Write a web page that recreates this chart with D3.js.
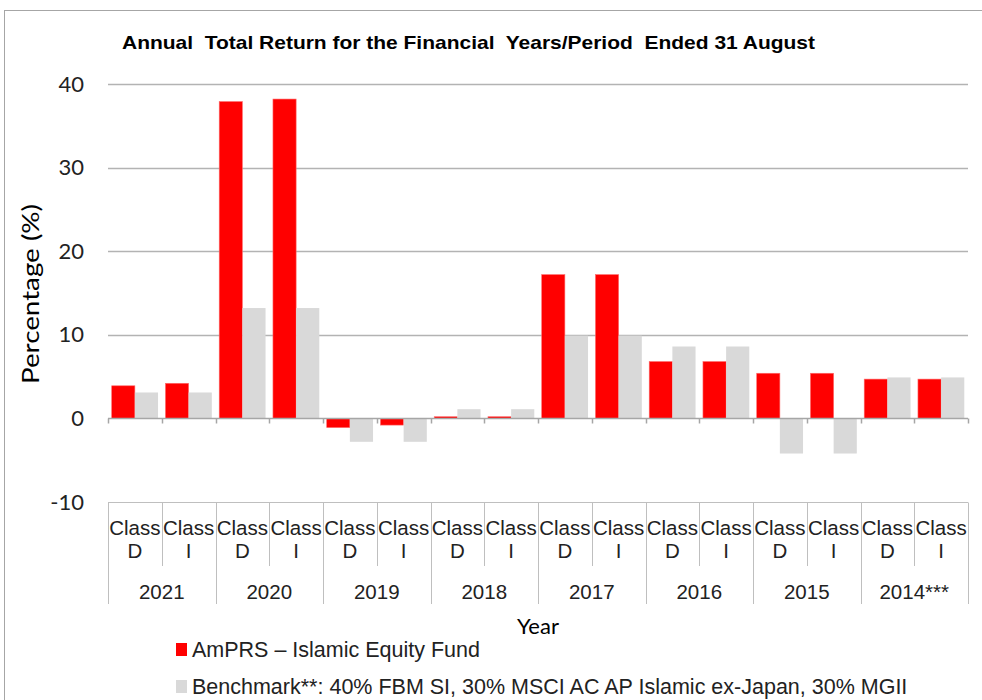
<!DOCTYPE html>
<html>
<head>
<meta charset="utf-8">
<script src="https://cdn.jsdelivr.net/npm/d3@7"></script>
<style>
  body { margin: 0; background: #fff; }
  text { white-space: pre; }
</style>
</head>
<body>
<div id="chart"></div>
<script>
// data
var years = ["2021", "2020", "2019", "2018", "2017", "2016", "2015", "2014***"];
var classes = ["Class D", "Class I"];
var fund =      [3.9, 4.2, 37.9, 38.2, -1.1, -0.8, 0.2, 0.2, 17.2, 17.2, 6.8, 6.8, 5.4, 5.4, 4.7, 4.7];
var benchmark = [3.1, 3.1, 13.2, 13.2, -2.8, -2.8, 1.1, 1.1, 9.9, 9.9, 8.6, 8.6, -4.2, -4.2, 4.9, 4.9];
var yTicks = [-10, 0, 10, 20, 30, 40];
var seriesNames = ["AmPRS \u2013 Islamic Equity Fund",
  "Benchmark**: 40% FBM SI, 30% MSCI AC AP Islamic ex-Japan, 30% MGII"];
var colors = ["#ff0000", "#d9d9d9"];

var W = 982, H = 700;
var plotLeft = 108, plotRight = 968, plotTop = 84, plotBottom = 502;

// flat category list: one entry per year/class pair
var cats = [];
years.forEach(function(yr) {
  classes.forEach(function(c) { cats.push({year: yr, cls: c, key: yr + "|" + c}); });
});
cats.forEach(function(d, i) { d.fund = fund[i]; d.bench = benchmark[i]; });

var svg = d3.select("#chart").append("svg")
  .attr("width", W).attr("height", H);

// outer frame
svg.append("rect")
  .attr("x", 4.5).attr("y", 10.5)
  .attr("width", 990).attr("height", 700)
  .attr("fill", "none").attr("stroke", "#a6a6a6").attr("stroke-width", 1);

var x0 = d3.scaleBand().domain(cats.map(function(d) { return d.key; }))
  .range([plotLeft, plotRight]).padding(0);
var x1 = d3.scaleBand().domain(["fund", "bench"])
  .range([0, x0.bandwidth()]).paddingInner(0).paddingOuter(0.16);
var y = d3.scaleLinear().domain([-10, 40]).range([plotBottom, plotTop]);

// gridlines
svg.append("g")
  .selectAll("line")
  .data(yTicks.filter(function(t) { return t > 0; }))
  .enter().append("line")
  .attr("x1", plotLeft).attr("x2", plotRight)
  .attr("y1", function(d) { return Math.round(y(d)) + 0.5; })
  .attr("y2", function(d) { return Math.round(y(d)) + 0.5; })
  .attr("stroke", "#b3b3b3").attr("stroke-width", 1.5);

// y tick labels
svg.append("g")
  .selectAll("text")
  .data(yTicks)
  .enter().append("text")
  .attr("x", 84)
  .attr("y", function(d) { return y(d) + 7.5; })
  .attr("text-anchor", "end")
  .attr("font-family", "Lato, 'Open Sans', sans-serif")
  .attr("font-size", 22)
  .attr("fill", "#222")
  .text(function(d) { return d; });

// bars
var groups = svg.append("g").selectAll("g")
  .data(cats).enter().append("g")
  .attr("transform", function(d) { return "translate(" + x0(d.key) + ",0)"; });

groups.append("rect")
  .attr("x", x1("fund"))
  .attr("width", x1.bandwidth())
  .attr("y", function(d) { return y(Math.max(0, d.fund)); })
  .attr("height", function(d) { return Math.abs(y(d.fund) - y(0)); })
  .attr("fill", colors[0]).attr("stroke", "#ff6b6b").attr("stroke-width", 0.6);

groups.append("rect")
  .attr("x", x1("bench"))
  .attr("width", x1.bandwidth())
  .attr("y", function(d) { return y(Math.max(0, d.bench)); })
  .attr("height", function(d) { return Math.abs(y(d.bench) - y(0)); })
  .attr("fill", colors[1]);

// zero axis with ticks at category boundaries
var zeroY = Math.round(y(0)) + 0.5;
svg.append("line")
  .attr("x1", plotLeft).attr("x2", plotRight)
  .attr("y1", zeroY).attr("y2", zeroY)
  .attr("stroke", "#a6a6a6").attr("stroke-width", 1.5);
svg.append("g").selectAll("line")
  .data(d3.range(cats.length + 1))
  .enter().append("line")
  .attr("x1", function(i) { return Math.round(plotLeft + i * x0.step()) + 0.5; })
  .attr("x2", function(i) { return Math.round(plotLeft + i * x0.step()) + 0.5; })
  .attr("y1", zeroY).attr("y2", zeroY + 5)
  .attr("stroke", "#a6a6a6").attr("stroke-width", 1.5);

// category table below the plot
var tableTop = Math.round(y(-10)) + 0.5;
svg.append("line")
  .attr("x1", plotLeft).attr("x2", plotRight)
  .attr("y1", tableTop).attr("y2", tableTop)
  .attr("stroke", "#bfbfbf");
svg.append("g").selectAll("line")
  .data(d3.range(cats.length + 1))
  .enter().append("line")
  .attr("x1", function(i) { return Math.round(plotLeft + i * x0.step()) + 0.5; })
  .attr("x2", function(i) { return Math.round(plotLeft + i * x0.step()) + 0.5; })
  .attr("y1", tableTop)
  .attr("y2", function(i) { return i % 2 === 0 ? 604 : 566; })
  .attr("stroke", "#bfbfbf");

var catFont = "'Liberation Sans', Arial, sans-serif";
var catLabels = svg.append("g").selectAll("text")
  .data(cats).enter().append("text")
  .attr("text-anchor", "middle")
  .attr("font-family", catFont)
  .attr("font-size", 20.5)
  .attr("fill", "#222");
catLabels.append("tspan")
  .attr("x", function(d) { return x0(d.key) + x0.bandwidth() / 2; })
  .attr("y", 535)
  .text(function(d) { return d.cls.split(" ")[0]; });
catLabels.append("tspan")
  .attr("x", function(d) { return x0(d.key) + x0.bandwidth() / 2; })
  .attr("y", 558)
  .text(function(d) { return d.cls.split(" ")[1]; });

svg.append("g").selectAll("text")
  .data(years).enter().append("text")
  .attr("x", function(yr) { return x0(yr + "|" + classes[0]) + x0.step(); })
  .attr("y", 599)
  .attr("text-anchor", "middle")
  .attr("font-family", catFont)
  .attr("font-size", 20.5)
  .attr("fill", "#222")
  .text(function(d) { return d; });

// title
svg.append("text")
  .attr("x", 122).attr("y", 49)
  .attr("font-family", "'Liberation Sans', Arial, sans-serif")
  .attr("font-weight", "bold")
  .attr("font-size", 18.5)
  .attr("textLength", 693)
  .attr("lengthAdjust", "spacingAndGlyphs")
  .attr("fill", "#000")
  .text("Annual  Total Return for the Financial  Years/Period  Ended 31 August");

// axis titles
svg.append("text")
  .attr("transform", "translate(39,294) rotate(-90)")
  .attr("text-anchor", "middle")
  .attr("font-family", "Lato, 'Open Sans', sans-serif")
  .attr("font-size", 24)
  .attr("textLength", 180)
  .attr("lengthAdjust", "spacingAndGlyphs")
  .attr("fill", "#000")
  .text("Percentage (%)");

svg.append("text")
  .attr("x", 538).attr("y", 634)
  .attr("text-anchor", "middle")
  .attr("font-family", "Lato, 'Open Sans', sans-serif")
  .attr("font-size", 22)
  .attr("fill", "#000")
  .text("Year");

// legend
var legend = svg.append("g").selectAll("g")
  .data(seriesNames).enter().append("g")
  .attr("transform", function(d, i) { return "translate(176," + (643 + i * 37) + ")"; });
legend.append("rect")
  .attr("width", 11).attr("height", 13)
  .attr("fill", function(d, i) { return colors[i]; });
legend.append("text")
  .attr("x", 16).attr("y", 14)
  .attr("font-family", "'Liberation Sans', Arial, sans-serif")
  .attr("font-size", 21.5)
  .attr("fill", "#222")
  .text(function(d) { return d; });
</script>
</body>
</html>
